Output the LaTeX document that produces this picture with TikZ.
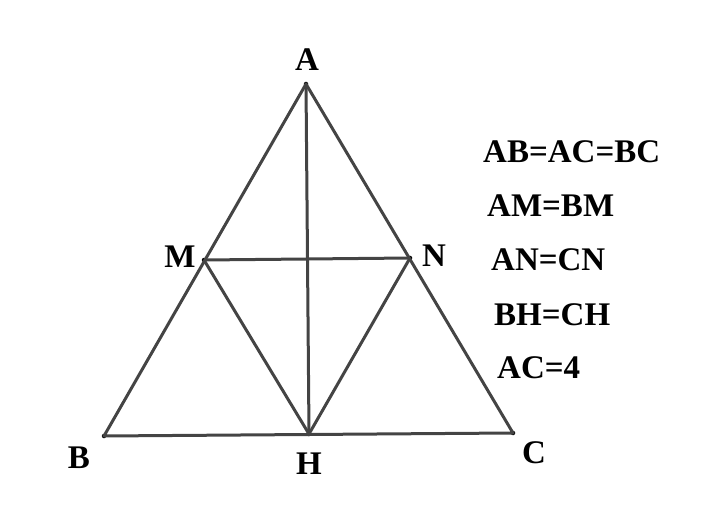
\documentclass[tikz,border=0pt]{standalone}
\usepackage{fontspec}
\setmainfont{Liberation Serif}
\definecolor{EdgeGray}{RGB}{68,68,68}
\usetikzlibrary{positioning}

\begin{document}
\begin{tikzpicture}[
      x=1pt, y=-1pt,
      every node/.style={font=\fontsize{33}{36}\selectfont\bfseries},
      edge/.style={EdgeGray, line width=3pt, line join=round},
      pt/.style={circle, fill=black, inner sep=0pt, minimum size=4.5pt},
      fact/.style={anchor=west, inner sep=0pt}
    ]
      \useasboundingbox (0,0) rectangle (706,526);

      % points of the triangle
      \node[pt] (A) at (306,84) {};
      \node[pt] (B) at (104,436) {};
      \node[pt] (C) at (513,433) {};
      \node[pt] (H) at (309,434) {};
      \node[pt] (M) at (204,260) {};
      \node[pt] (N) at (410,258) {};

      \draw[edge] (A.center) -- (B.center) -- (C.center) -- cycle;
      \draw[edge] (A.center) -- (H.center);
      \draw[edge] (M.center) -- (N.center);
      \draw[edge] (M.center) -- (H.center) -- (N.center);

      % labels
      \node (lA) at (307,60) {A};
      \node (lB) at (79,458) {B};
      \node (lC) at (534,453) {C};
      \node (lH) at (309,464) {H};
      \node (lM) at (180,257) {M};
      \node (lN) at (434,256) {N};

      % given facts
      \node[fact] (f1) at (483,152) {AB=AC=BC};
      \node[fact] (f2) at (487,206) {AM=BM};
      \node[fact] (f3) at (491,260) {AN=CN};
      \node[fact] (f4) at (494,315) {BH=CH};
      \node[fact] (f5) at (497,368) {AC=4};
    \end{tikzpicture}
\end{document}
